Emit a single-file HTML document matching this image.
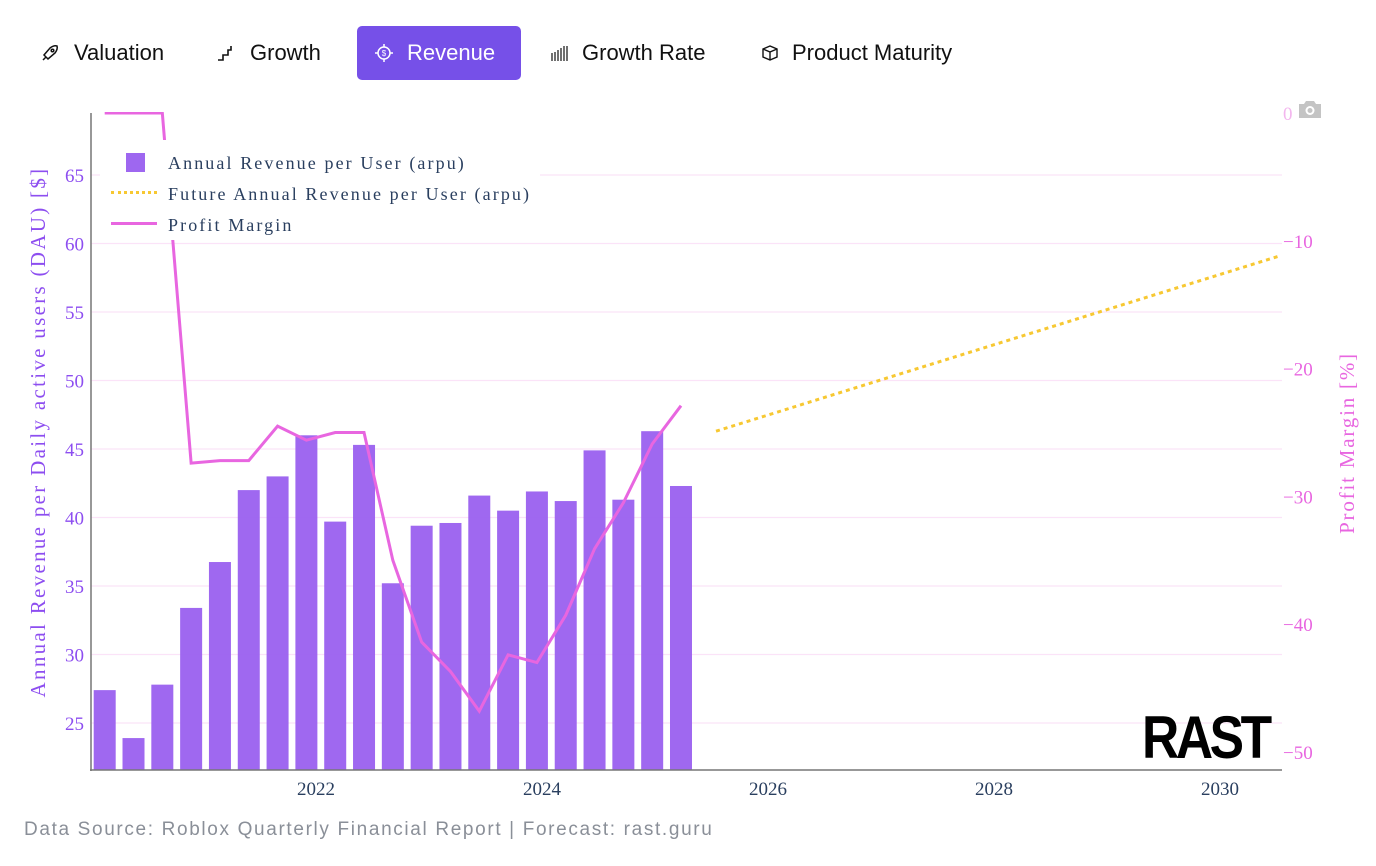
<!DOCTYPE html>
<html><head><meta charset="utf-8"><style>
body{margin:0;width:1376px;height:866px;background:#fff;overflow:hidden;font-family:"Liberation Sans",sans-serif;position:relative}
.tab{position:absolute;top:26px;height:54px;line-height:54px;font-size:22px;color:#111}
.tabbg{position:absolute;left:357px;top:26px;width:164px;height:54px;background:#7650e8;border-radius:5px}
.ic{position:absolute;top:43px;width:20px;height:20px}
#foot{position:absolute;left:24px;top:819px;font-size:19px;color:#8a8f98;letter-spacing:1.65px}
</style></head><body>
<div class="tabbg"></div>
<svg class="ic" style="left:40px" viewBox="0 0 20 20" fill="none" stroke="#111" stroke-width="1.5"><path d="M6 14 L4 12 L10 5 Q14 2 17 3 Q18 6 15 10 L8 16 Z M3 17 L6 14"/><circle cx="12.5" cy="7.5" r="1.3"/></svg>
<div class="tab" style="left:74px">Valuation</div>
<svg class="ic" style="left:216px" viewBox="0 0 20 20" fill="none" stroke="#111" stroke-width="1.6"><path d="M2 17 H7 V12 H12 V7 H15 V3"/></svg>
<div class="tab" style="left:250px">Growth</div>
<svg class="ic" style="left:374px" viewBox="0 0 20 20" fill="none" stroke="#fff" stroke-width="1.5"><circle cx="10" cy="10" r="6"/><path d="M10 1V4M10 16V19M1 10H4M16 10H19"/><text x="10" y="13" font-size="8" fill="#fff" stroke="none" text-anchor="middle">$</text></svg>
<div class="tab" style="left:407px;color:#fff">Revenue</div>
<svg class="ic" style="left:549px" viewBox="0 0 20 20" stroke="#111" stroke-width="1.2"><path d="M3 18V10M6 18V9M9 18V7M12 18V5M15 18V3M18 18V3"/></svg>
<div class="tab" style="left:582px">Growth Rate</div>
<svg class="ic" style="left:760px" viewBox="0 0 20 20" fill="none" stroke="#111" stroke-width="1.4"><path d="M3 6 L10 3 L17 6 L17 14 L10 17 L3 14 Z M3 6 L10 9 L17 6 M10 9 V17"/></svg>
<div class="tab" style="left:792px">Product Maturity</div>

<svg id="chart" width="1376" height="866" style="position:absolute;left:0;top:0">
<defs><clipPath id="pc"><rect x="91" y="112" width="1191" height="658"/></clipPath></defs>
<g id="grid"></g><g id="bars" clip-path="url(#pc)"></g><g id="lines" clip-path="url(#pc)"></g><g id="axes"></g>
</svg>

<div style="position:absolute;left:100px;top:140px;width:440px;height:100px;background:#fff">
 <div style="position:absolute;left:26px;top:13px;width:19px;height:19px;background:#9e67f0"></div>
 <div style="position:absolute;left:11px;top:51px;width:46px;border-top:3px dotted #f7c832"></div>
 <div style="position:absolute;left:11px;top:82px;width:46px;border-top:3px solid #e866e0"></div>
 <div style="position:absolute;left:68px;top:8px;font:18px 'Liberation Serif',serif;letter-spacing:2.1px;color:#2a3f5f;line-height:31px;white-space:nowrap">Annual Revenue per User (arpu)<br>Future Annual Revenue per User (arpu)<br>Profit Margin</div>
</div>
<svg style="position:absolute;left:1297px;top:99px" width="26" height="20"><path d="M2 5 H7 L9 2 H17 L19 5 H24 V19 H2 Z" fill="#c4c4c4"/><circle cx="13" cy="11.5" r="4.5" fill="#fff"/><circle cx="13" cy="11.5" r="2.5" fill="#c4c4c4"/></svg>
<div style="position:absolute;left:1142px;top:706px;font:900 60px 'Liberation Sans',sans-serif;letter-spacing:-4px;transform:scaleX(0.86);transform-origin:left;color:#000;line-height:64px">RAST</div>
<div id="foot">Data Source: Roblox Quarterly Financial Report | Forecast: rast.guru</div>
<script>
const years=[2020.13,2020.385,2020.64,2020.895,2021.15,2021.405,2021.66,2021.915,2022.17,2022.425,2022.68,2022.935,2023.19,2023.445,2023.70,2023.955,2024.21,2024.465,2024.72,2024.975,2025.23];
const arpu=[27.4,23.9,27.8,33.4,36.75,42.0,43.0,46.0,39.7,45.3,35.2,39.4,39.6,41.6,40.5,41.9,41.2,44.9,41.3,46.3,42.3];
const margin=[0,0,0,-27.4,-27.2,-27.2,-24.5,-25.6,-25.0,-25.0,-35.0,-41.4,-43.7,-46.8,-42.4,-43.0,-39.3,-34.1,-30.5,-25.9,-22.9];
const futureYears=[2025.54,2030.53];
const futureArpu=[46.3,59.1];
const leftTicks=[25,30,35,40,45,50,55,60,65];
const rightTicks=[0,-10,-20,-30,-40,-50];
const xTicks=[2022,2024,2026,2028,2030];
const X=v=>316+(v-2022)*113;
const YL=v=>723-(v-25)*13.7;
const YR=v=>113-v*12.78;
const NS='http://www.w3.org/2000/svg';
function mk(tag,attrs,parent,txt){const e=document.createElementNS(NS,tag);for(const k in attrs)e.setAttribute(k,attrs[k]);if(txt!==undefined)e.textContent=txt;document.getElementById(parent).appendChild(e);return e;}
leftTicks.forEach(t=>{
 const g=mk('line',{x1:91,x2:1282,y1:YL(t),y2:YL(t),stroke:'#fbe3f8','stroke-width':1.2},'grid');
 
 
 const l=mk('text',{x:84,y:YL(t)+7,'text-anchor':'end','font-family':'Liberation Serif, serif','font-size':19,fill:'#8d4ef0'},'axes',t);
 
 
});
rightTicks.forEach(t=>{
 const l=mk('text',{x:1283,y:YR(t)+7,'font-family':'Liberation Serif, serif','font-size':19,fill:t===0?'#f3b6ee':'#e866e0'},'axes',t===0?'0':'\u2212'+Math.abs(t));
 
 
});
xTicks.forEach(t=>{
 const l=mk('text',{x:X(t),y:795,'text-anchor':'middle','font-family':'Liberation Serif, serif','font-size':19,fill:'#2a3f5f'},'axes',t);
 
 
});
years.forEach((yr,i)=>{
 const b=mk('rect',{x:X(yr)-11,y:YL(arpu[i]),width:22,height:770-YL(arpu[i]),fill:'#9a60ef','fill-opacity':0.95},'bars');
 
 
});
const pm=mk('polyline',{points:years.map((y,i)=>X(y)+','+YR(margin[i])).join(' '),fill:'none',stroke:'#e866e0','stroke-width':3},'lines');


const fl=mk('polyline',{points:futureYears.map((y,i)=>X(y)+','+YL(futureArpu[i])).join(' '),fill:'none',stroke:'#f7c832','stroke-width':3,'stroke-dasharray':'4,4'},'lines');


const ax1=mk('line',{x1:91,x2:91,y1:113,y2:771,stroke:'#777','stroke-width':1.5},'axes');


const ax2=mk('line',{x1:90,x2:1282,y1:770,y2:770,stroke:'#777','stroke-width':1.5},'axes');


const lt=mk('text',{x:0,y:0,transform:'translate(45,432) rotate(-90)','text-anchor':'middle','font-family':'Liberation Serif, serif','font-size':21,'letter-spacing':2.3,fill:'#8d4ef0'},'axes','Annual Revenue per Daily active users (DAU) [$]');


const rt=mk('text',{x:0,y:0,transform:'translate(1354,443) rotate(-90)','text-anchor':'middle','font-family':'Liberation Serif, serif','font-size':21,'letter-spacing':1.8,fill:'#e866e0'},'axes','Profit Margin [%]');


</script>
</body></html>
